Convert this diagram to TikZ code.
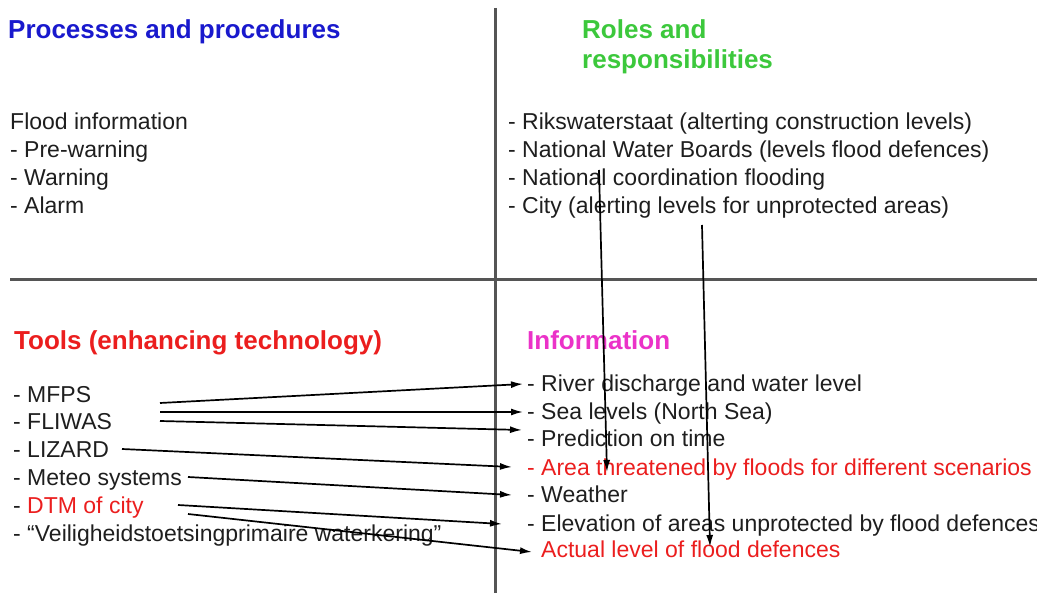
\documentclass[tikz,border=0pt]{standalone}
\usepackage{fontspec}
\setmainfont{Liberation Sans}
\usepackage{tikz}
\usetikzlibrary{arrows.meta}
\definecolor{headblue}{RGB}{25,25,205}
\definecolor{headgreen}{RGB}{60,200,60}
\definecolor{headred}{RGB}{235,30,30}
\definecolor{headpink}{RGB}{235,50,200}
\definecolor{textgray}{RGB}{30,30,30}
\definecolor{divgray}{RGB}{85,85,85}

\begin{document}
\begin{tikzpicture}[x=1pt, y=-1pt,
        item/.style={anchor=base west, inner sep=0pt, font=\fontsize{23}{28}\selectfont, text=textgray},
        heading/.style={anchor=base west, inner sep=0pt, font=\fontsize{26}{30}\selectfont\bfseries},
        divider/.style={draw=divgray, line width=3pt},
        link/.style={draw=black, line width=1.7pt, -{Latex[length=12pt, width=7pt]}}]

        \useasboundingbox (0,0) rectangle (1037,593);

        % Dividers
        \coordinate (divtop) at (495,8);
        \coordinate (divbottom) at (495,593);
        \coordinate (divleft) at (10,280);
        \coordinate (divright) at (1037,280);
        \draw[divider] (divtop) -- (divbottom);
        \draw[divider] (divleft) -- (divright);

        % Headings
        \node[heading, text=headblue] (proc) at (8,39) {Processes and procedures};
        \node[heading, text=headgreen] (roles) at (582,39) {Roles and};
        \node[heading, text=headgreen] (resp) at (582,69) {responsibilities};
        \node[heading, text=headred] (tools) at (14,350) {Tools (enhancing technology)};
        \node[heading, text=headpink] (info) at (527,350) {Information};

        % Processes and procedures
        \node[item] (flood) at (10,130) {Flood information};
        \node[item] (prewarn) at (10,158) {- Pre-warning};
        \node[item] (warn) at (10,186) {- Warning};
        \node[item] (alarm) at (10,214) {- Alarm};

        % Roles and responsibilities
        \node[item] (rws) at (508,130) {- Rikswaterstaat (alterting construction levels)};
        \node[item] (boards) at (508,158) {- National Water Boards (levels flood defences)};
        \node[item] (natcoord) at (508,186) {- National coordination flooding};
        \node[item] (city) at (508,214) {- City (alerting levels for unprotected areas)};

        % Tools
        \node[item] (mfps) at (13,403) {- MFPS};
        \node[item] (fliwas) at (13,430) {- FLIWAS};
        \node[item] (lizard) at (13,458) {- LIZARD};
        \node[item] (meteo) at (13,486) {- Meteo systems};
        \node[item] (dtm) at (13,514) {- \textcolor{headred}{DTM of city}};
        \node[item] (veilig) at (13,542) {- “Veiligheidstoetsingprimaire waterkering”};

        % Information
        \node[item] (river) at (527,392) {- River discharge and water level};
        \node[item] (sea) at (527,420) {- Sea levels (North Sea)};
        \node[item] (pred) at (527,447) {- Prediction on time};
        \node[item, text=headred] (area) at (527,476) {- Area threatened by floods for different scenarios};
        \node[item] (weather) at (527,503) {- Weather};
        \node[item] (elev) at (527,532) {- Elevation of areas unprotected by flood defences};
        \node[item, text=headred] (actual) at (541,558) {Actual level of flood defences};

        % Arrow ends
        \coordinate (mfps-out) at (160,403);
        \coordinate (fliwas-out-a) at (160,412);
        \coordinate (fliwas-out-b) at (160,421);
        \coordinate (lizard-out) at (122,449);
        \coordinate (meteo-out) at (188,477);
        \coordinate (dtm-out) at (178,505);
        \coordinate (veilig-out) at (188,514);
        \coordinate (river-in) at (523,384);
        \coordinate (sea-in) at (523,412);
        \coordinate (pred-in) at (522,430);
        \coordinate (area-in) at (512,467);
        \coordinate (weather-in) at (512,495);
        \coordinate (elev-in) at (502,524);
        \coordinate (actual-in) at (532,552);
        \coordinate (natcoord-out) at (599,170);
        \coordinate (area-top-in) at (607,472);
        \coordinate (city-out) at (702,225);
        \coordinate (actual-top-in) at (710,547);

        % Lines
        \draw[link] (mfps-out) -- (river-in);
        \draw[link] (fliwas-out-a) -- (sea-in);
        \draw[link] (fliwas-out-b) -- (pred-in);
        \draw[link] (lizard-out) -- (area-in);
        \draw[link] (meteo-out) -- (weather-in);
        \draw[link] (dtm-out) -- (elev-in);
        \draw[link] (veilig-out) -- (actual-in);
        \draw[link] (natcoord-out) -- (area-top-in);
        \draw[link] (city-out) -- (actual-top-in);
    \end{tikzpicture}
\end{document}
